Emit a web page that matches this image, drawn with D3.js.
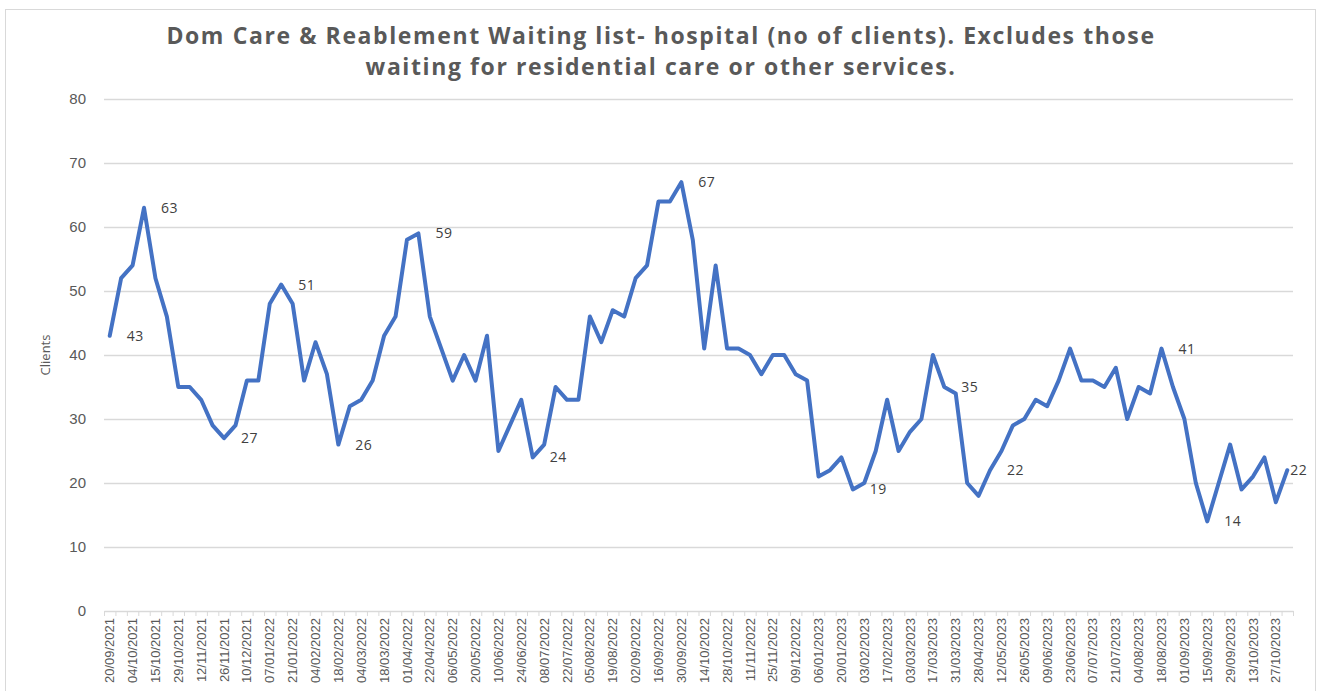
<!DOCTYPE html>
<html>
<head>
<meta charset="utf-8">
<script src="https://cdn.jsdelivr.net/npm/d3@7"></script>
<style>
  body { margin: 0; background: #fff; }
  svg { display: block; font-family: "Open Sans", sans-serif; }
</style>
</head>
<body>
<div id="chart"></div>
<script>
// weekly snapshots (only every other one is labelled on the axis)
const weeks = [
  '20/09/2021','27/09/2021','04/10/2021','08/10/2021','15/10/2021','22/10/2021','29/10/2021','05/11/2021',
  '12/11/2021','19/11/2021','26/11/2021','03/12/2021','10/12/2021','17/12/2021','07/01/2022','14/01/2022',
  '21/01/2022','28/01/2022','04/02/2022','11/02/2022','18/02/2022','25/02/2022','04/03/2022','11/03/2022',
  '18/03/2022','25/03/2022','01/04/2022','08/04/2022','22/04/2022','29/04/2022','06/05/2022','13/05/2022',
  '20/05/2022','27/05/2022','10/06/2022','17/06/2022','24/06/2022','01/07/2022','08/07/2022','15/07/2022',
  '22/07/2022','29/07/2022','05/08/2022','12/08/2022','19/08/2022','26/08/2022','02/09/2022','09/09/2022',
  '16/09/2022','23/09/2022','30/09/2022','07/10/2022','14/10/2022','21/10/2022','28/10/2022','04/11/2022',
  '11/11/2022','18/11/2022','25/11/2022','02/12/2022','09/12/2022','16/12/2022','06/01/2023','13/01/2023',
  '20/01/2023','27/01/2023','03/02/2023','10/02/2023','17/02/2023','24/02/2023','03/03/2023','10/03/2023',
  '17/03/2023','24/03/2023','31/03/2023','14/04/2023','28/04/2023','05/05/2023','12/05/2023','19/05/2023',
  '26/05/2023','02/06/2023','09/06/2023','16/06/2023','23/06/2023','30/06/2023','07/07/2023','14/07/2023',
  '21/07/2023','28/07/2023','04/08/2023','11/08/2023','18/08/2023','25/08/2023','01/09/2023','08/09/2023',
  '15/09/2023','22/09/2023','29/09/2023','06/10/2023','13/10/2023','20/10/2023','27/10/2023','03/11/2023'
];

const clients = [
  43, 52, 54, 63, 52, 46, 35, 35, 33, 29, 27, 29, 36, 36, 48, 51,
  48, 36, 42, 37, 26, 32, 33, 36, 43, 46, 58, 59, 46, 41, 36, 40,
  36, 43, 25, 29, 33, 24, 26, 35, 33, 33, 46, 42, 47, 46, 52, 54,
  64, 64, 67, 58, 41, 54, 41, 41, 40, 37, 40, 40, 37, 36, 21, 22,
  24, 19, 20, 25, 33, 25, 28, 30, 40, 35, 34, 20, 18, 22, 25, 29,
  30, 33, 32, 36, 41, 36, 36, 35, 38, 30, 35, 34, 41, 35, 30, 20,
  14, 20, 26, 19, 21, 24, 17, 22
];

// points that carry a data label
const labelled = [0, 3, 10, 15, 20, 27, 37, 50, 65, 73, 77, 92, 96, 103];

const yTicks = [0, 10, 20, 30, 40, 50, 60, 70, 80];

const titleLines = [
  'Dom Care & Reablement Waiting list- hospital (no of clients). Excludes those',
  'waiting for residential care or other services.'
];

const W = 1322, H = 691;
const plot = { left: 104, right: 1293, top: 99, bottom: 611 };

const svg = d3.select('#chart')
  .append('svg')
  .attr('width', W)
  .attr('height', H);

// outer chart frame
svg.append('rect')
  .attr('x', 5.5).attr('y', 9.5)
  .attr('width', 1310).attr('height', 700)
  .attr('fill', '#fff')
  .attr('stroke', '#d9d9d9');

const x = d3.scaleBand()
  .domain(weeks)
  .range([plot.left, plot.right])
  .padding(0);

const xEdge = d3.scaleLinear()
  .domain([0, weeks.length])
  .range([plot.left, plot.right]);

const y = d3.scaleLinear()
  .domain([0, 80])
  .range([plot.bottom, plot.top]);

// gridlines
svg.append('g')
  .attr('class', 'grid')
  .attr('transform', `translate(${plot.left},0)`)
  .call(d3.axisLeft(y).tickValues(yTicks.slice(1)).tickSize(-(plot.right - plot.left)).tickFormat(''))
  .call(g => g.select('.domain').remove())
  .call(g => g.selectAll('line').attr('stroke', '#d9d9d9').attr('stroke-width', 1.3));

// y axis labels
svg.append('g')
  .attr('class', 'y-axis')
  .attr('transform', `translate(${plot.left},0)`)
  .call(d3.axisLeft(y).tickValues(yTicks).tickSize(0).tickPadding(18))
  .call(g => g.select('.domain').remove())
  .call(g => g.selectAll('text')
    .style('font-size', '15px')
    .attr('fill', '#595959'));

// x axis line + tick marks at category boundaries
svg.append('g')
  .attr('class', 'x-ticks')
  .attr('transform', `translate(0,${plot.bottom})`)
  .call(d3.axisBottom(xEdge).tickValues(d3.range(weeks.length + 1)).tickSize(5).tickSizeOuter(0).tickFormat(''))
  .call(g => g.select('.domain').attr('stroke', '#d9d9d9').attr('stroke-width', 1.3))
  .call(g => g.selectAll('line').attr('stroke', '#d9d9d9'));

// x axis date labels, every other week
svg.append('g')
  .attr('class', 'x-axis')
  .attr('transform', `translate(0,${plot.bottom})`)
  .call(d3.axisBottom(x).tickValues(weeks.filter((d, i) => i % 2 === 0)).tickSize(0))
  .call(g => g.select('.domain').remove())
  .call(g => g.selectAll('text')
    .attr('transform', 'rotate(-90)')
    .attr('text-anchor', 'end')
    .attr('dy', '0.35em')
    .attr('x', -7)
    .attr('y', 0)
    .style('font-size', '13px')
    .attr('fill', '#595959'));

// y axis title
svg.append('text')
  .attr('transform', `translate(50,${(plot.top + plot.bottom) / 2}) rotate(-90)`)
  .attr('text-anchor', 'middle')
  .style('font-size', '13px')
  .attr('fill', '#595959')
  .text('Clients');

// title
svg.append('g')
  .attr('class', 'title')
  .selectAll('text')
  .data(titleLines)
  .enter()
  .append('text')
  .attr('x', 661)
  .attr('y', (d, i) => 44 + i * 31)
  .attr('text-anchor', 'middle')
  .style('font-size', '23px')
  .style('letter-spacing', '1.6px')
  .style('font-weight', 'bold')
  .attr('fill', '#595959')
  .text(d => d);

// the series line
const line = d3.line()
  .x((d, i) => x(weeks[i]) + x.bandwidth() / 2)
  .y(d => y(d));

svg.append('path')
  .datum(clients)
  .attr('fill', 'none')
  .attr('stroke', '#4472c4')
  .attr('stroke-width', 4)
  .attr('stroke-linejoin', 'round')
  .attr('stroke-linecap', 'round')
  .attr('d', line);

// data labels
svg.append('g')
  .attr('class', 'data-labels')
  .selectAll('text')
  .data(labelled)
  .enter()
  .append('text')
  .attr('x', i => x(weeks[i]) + x.bandwidth() / 2 + (i === clients.length - 1 ? 3 : 17))
  .attr('y', i => y(clients[i]))
  .attr('dy', '0.35em')
  .style('font-size', '14px')
  .style('letter-spacing', '0.5px')
  .attr('fill', '#404040')
  .text(i => clients[i]);
</script>
</body>
</html>
